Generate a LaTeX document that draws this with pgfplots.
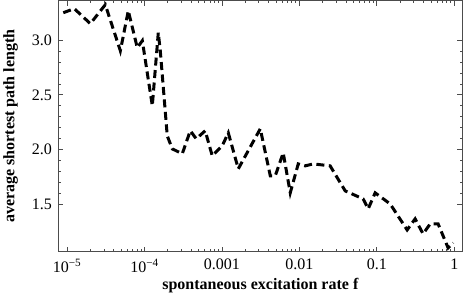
\documentclass[border=0pt]{standalone}
\usepackage{fontspec}
\setmainfont{Liberation Serif}
\usepackage{pgfplots}
\pgfplotsset{compat=1.18}

\begin{document}
\begin{tikzpicture}
\begin{axis}[
    scale only axis,
    width=404pt, height=251pt,
    xmode=log,
    xmin=7.73e-6, xmax=1.27,
    ymin=1.071, ymax=3.359,
    xtick={1e-5,1e-4,1e-3,1e-2,1e-1,1},
    xticklabels={10\textsuperscript{−5},10\textsuperscript{−4},0.001,0.01,0.1,1},
    ytick={1.5,2,2.5,3},
    yticklabels={1.5,2.0,2.5,3.0},
    minor y tick num=4,
    tick align=inside,
    major tick length=5pt, minor tick length=2.5pt,
    axis line style={draw=black!70, line width=1.3pt},
    every tick/.style={black!70, line width=0.8pt},
    tick label style={font=\fontsize{16}{18}\selectfont},
    xticklabel style={yshift=-4pt},
    yticklabel style={xshift=-3pt},
    label style={font=\bfseries\fontsize{16}{18}\selectfont},
    xlabel style={yshift=2pt},
    ylabel shift=7pt,
    xlabel={spontaneous excitation rate f},
    ylabel={average shortest path length},
]
\addplot[black, line width=3pt, dash pattern=on 8pt off 4.5pt] coordinates {
    (8.95e-6,3.249) (1.242e-5,3.286) (2.00e-5,3.149) (3.12e-5,3.322)
    (4.88e-5,2.902) (6.18e-5,3.267) (8.07e-5,2.930) (9.38e-5,2.994)
    (1.262e-4,2.401) (1.507e-4,3.067) (1.600e-4,2.902) (1.968e-4,2.127)
    (2.286e-4,2.008) (3.076e-4,1.963) (3.90e-4,2.173) (4.66e-4,2.100)
    (6.08e-4,2.173) (7.50e-4,1.944) (1.009e-3,2.036) (1.208e-3,2.154)
    (1.626e-3,1.826) (3.126e-3,2.191) (4.21e-3,1.762) (4.88e-3,1.762)
    (6.18e-3,1.972) (7.62e-3,1.607) (9.66e-3,1.871) (1.189e-2,1.853)
    (1.507e-2,1.871) (2.495e-2,1.853) (3.90e-2,1.625) (6.65e-2,1.552)
    (7.73e-2,1.461) (9.51e-2,1.607) (0.1486,1.506) (0.246,1.269)
    (0.312,1.370) (0.395,1.233) (0.488,1.324) (0.618,1.324)
    (0.832,1.105) (0.966,1.151)
};
\end{axis}
\end{tikzpicture}
\end{document}
